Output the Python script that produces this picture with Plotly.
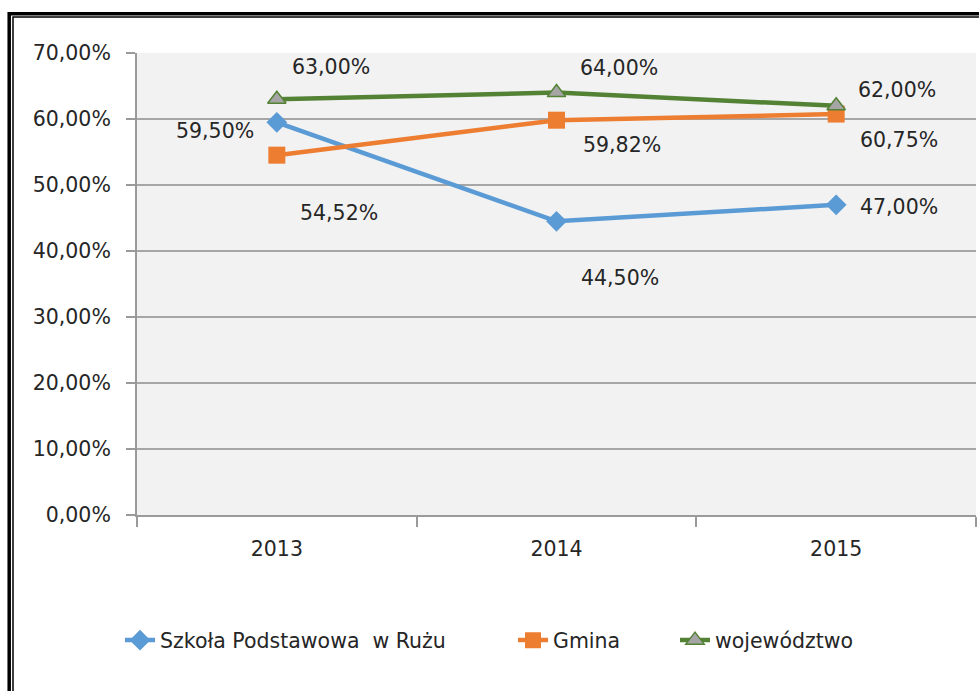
import plotly.graph_objects as go

years = ["2013", "2014", "2015"]
szkola = [59.50, 44.50, 47.00]
gmina = [54.52, 59.82, 60.75]
wojewodztwo = [63.00, 64.00, 62.00]
series_names = ["Szkoła Podstawowa\u00a0 w Rużu", "Gmina", "województwo"]

FONT = "DejaVu Sans"
FS = 20.5
TXT = "#262626"

def fmt(v):
    return f"{v:.2f}".replace(".", ",") + "%"

fig = go.Figure()
fig.add_trace(go.Scatter(x=years, y=szkola, name=series_names[0], mode="lines+markers",
                         line=dict(color="#5B9BD5", width=4.5), legend="legend",
                         marker=dict(symbol="diamond", size=16, color="#5B9BD5")))
fig.add_trace(go.Scatter(x=years, y=gmina, name=series_names[1], mode="lines+markers",
                         line=dict(color="#ED7D31", width=4.5), legend="legend2",
                         marker=dict(symbol="square", size=17, color="#ED7D31")))
fig.add_trace(go.Scatter(x=years, y=wojewodztwo, name=series_names[2], mode="lines+markers",
                         line=dict(color="#548235", width=4.5), legend="legend3",
                         marker=dict(symbol="triangle-up", size=16, color="#A5A5A5",
                                     line=dict(color="#548235", width=1.5))))

# data label offsets (pixels) per series
offs = {
    0: [(-62, -9), (63, -57), (63, -2)],
    1: [(62, -58), (65, -25), (63, -26)],
    2: [(54, 32), (62, 25), (61, 16)],
}
for si, vals in enumerate([szkola, gmina, wojewodztwo]):
    for i, v in enumerate(vals):
        dx, dy = offs[si][i]
        fig.add_annotation(x=i, y=v, xref="x", yref="y", text=fmt(v), showarrow=False,
                           xshift=dx, yshift=dy,
                           font=dict(family=FONT, size=FS, color=TXT))

L, R, T, B = 137, 976, 52.7, 514.7
W, H = R - L, B - T
def px(x):
    return (x - L) / W
def py(y):
    return (B - y) / H

# double border
fig.add_shape(type="rect", xref="paper", yref="paper",
              x0=px(9.2), x1=px(1000), y0=py(13.5), y1=py(720),
              line=dict(color="black", width=3.5), layer="above")
fig.add_shape(type="rect", xref="paper", yref="paper",
              x0=px(13), x1=px(995), y0=py(16.7), y1=py(715),
              line=dict(color="black", width=1.5), layer="above")

def leg(xpix):
    return dict(orientation="h", x=px(xpix), xanchor="left", y=py(640), yanchor="middle",
                font=dict(family=FONT, size=FS, color=TXT), bgcolor="rgba(0,0,0,0)")

fig.update_layout(
    width=979, height=691,
    margin=dict(l=L, r=979 - R, t=T, b=691 - B),
    paper_bgcolor="white", plot_bgcolor="#F2F2F2",
    separators=",.",
    font=dict(family=FONT, size=FS, color=TXT),
    showlegend=True,
    legend=leg(160 - 40),
    legend2=leg(553 - 40),
    legend3=leg(715 - 40),
    xaxis=dict(type="category", range=[-0.5, 2.5], tickson="boundaries",
               ticks="outside", ticklen=10, tickcolor="#9a9a9a", tickwidth=2,
               showline=True, linecolor="#9a9a9a", linewidth=2,
               showgrid=False, ticklabelstandoff=14,
               tickfont=dict(family=FONT, size=FS, color=TXT)),
    yaxis=dict(range=[0, 70], dtick=10, tickformat=".2f", ticksuffix="%",
               ticks="outside", ticklen=9, tickcolor="#9a9a9a", tickwidth=2,
               showline=True, linecolor="#9a9a9a", linewidth=2,
               gridcolor="#a6a6a6", gridwidth=2, zeroline=False,
               ticklabelstandoff=11,
               tickfont=dict(family=FONT, size=FS, color=TXT)),
)

fig.write_html("out.html", config={"displayModeBar": False},
               post_script="document.body.style.margin='0';document.body.style.padding='0';")
